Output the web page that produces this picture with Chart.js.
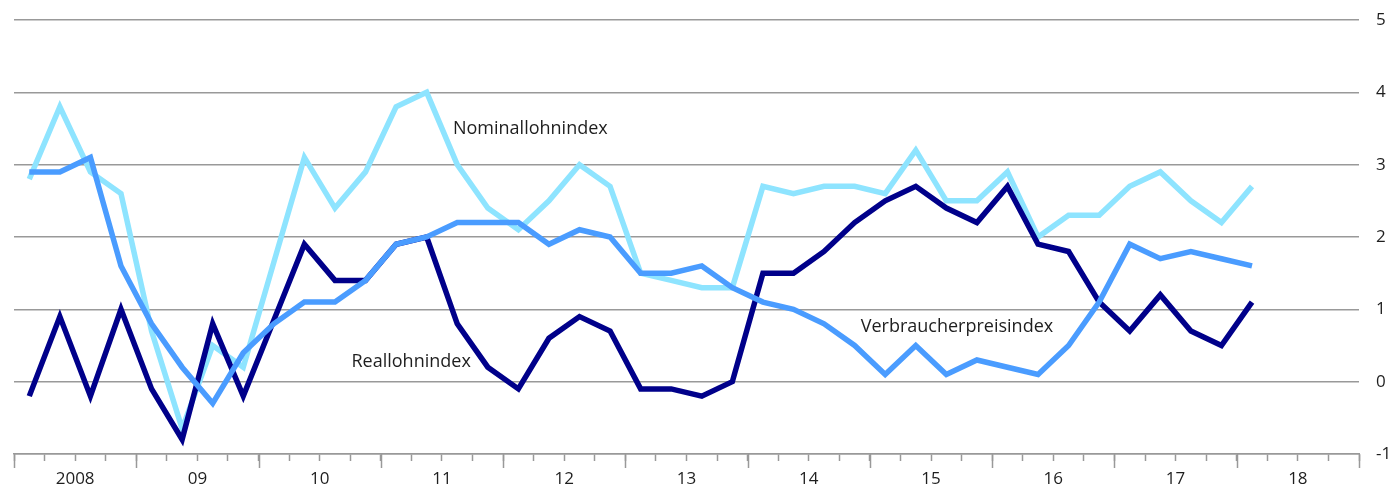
<!DOCTYPE html>
<html>
<head>
<meta charset="utf-8">
<script src="https://cdn.jsdelivr.net/npm/chart.js@4.4.1/dist/chart.umd.min.js"></script>
<style>
  html, body { margin: 0; padding: 0; background: #fff; }
  #wrap { width: 1399px; height: 493px; }
</style>
</head>
<body>
<div id="wrap"><canvas id="c" width="1399" height="493"></canvas></div>
<script>
// quarterly values, 2008 Q1 .. 2018 Q1 (change vs. previous year, %)
const years = ['2008', '09', '10', '11', '12', '13', '14', '15', '16', '17', '18']

const nominal = [2.8, 3.8, 2.9, 2.6, 0.7, -0.65, 0.5, 0.2, 1.65, 3.1, 2.4, 2.9, 3.8, 4.0, 3.0, 2.4, 2.1, 2.5, 3.0, 2.7,
                 1.5, 1.4, 1.3, 1.3, 2.7, 2.6, 2.7, 2.7, 2.6, 3.2, 2.5, 2.5, 2.9, 2.0, 2.3, 2.3, 2.7, 2.9, 2.5, 2.2, 2.7]
const real    = [-0.2, 0.9, -0.2, 1.0, -0.1, -0.8, 0.8, -0.2, 0.85, 1.9, 1.4, 1.4, 1.9, 2.0, 0.8, 0.2, -0.1, 0.6, 0.9, 0.7,
                 -0.1, -0.1, -0.2, 0.0, 1.5, 1.5, 1.8, 2.2, 2.5, 2.7, 2.4, 2.2, 2.7, 1.9, 1.8, 1.1, 0.7, 1.2, 0.7, 0.5, 1.1]
const cpi     = [2.9, 2.9, 3.1, 1.6, 0.8, 0.2, -0.3, 0.4, 0.8, 1.1, 1.1, 1.4, 1.9, 2.0, 2.2, 2.2, 2.2, 1.9, 2.1, 2.0,
                 1.5, 1.5, 1.6, 1.3, 1.1, 1.0, 0.8, 0.5, 0.1, 0.5, 0.1, 0.3, 0.2, 0.1, 0.5, 1.1, 1.9, 1.7, 1.8, 1.7, 1.6]

const seriesNames = ['Verbraucherpreisindex', 'Reallohnindex', 'Nominallohnindex']

// ── styles ───────────────────────────────────────────────────
const COL = { nominal: '#8ee4ff', real: '#00008a', cpi: '#4a9cff' }
const FONT = 'Open Sans'
const TXT = '#1e1e1e'
const GRID = '#999'

// label anchors in data units: x = quarter index, y = value
const tags = [
  { text: seriesNames[2], x: 14.36, y: 3.5 },
  { text: seriesNames[1], x: 11.04, y: 0.28 },
  { text: seriesNames[0], x: 27.7,  y: 0.76 },
]

const pts = arr => arr.map((v, i) => ({ x: i + 0.5, y: v }))

const line = (label, data, color) => ({
  label, data: pts(data),
  borderColor: color, backgroundColor: color,
  borderWidth: 5.5, pointRadius: 0, tension: 0,
  borderJoinStyle: 'miter', borderCapStyle: 'butt', fill: false,
})

// longer tick marks at the year boundaries + inline series names
const extras = {
  id: 'extras',
  afterDraw(chart) {
    const { ctx, scales: { x, y } } = chart
    const y0 = x.top
    ctx.save()
    ctx.strokeStyle = GRID
    ctx.lineWidth = 1.5
    for (let q = 0; q <= 44; q += 4) {
      const px = Math.round(x.getPixelForValue(q)) + 0.5
      ctx.beginPath(); ctx.moveTo(px, y0); ctx.lineTo(px, y0 + 14); ctx.stroke()
    }
    ctx.fillStyle = TXT
    ctx.font = `18px "${FONT}"`
    ctx.textBaseline = 'middle'
    ctx.textAlign = 'left'
    tags.forEach(t => ctx.fillText(t.text, x.getPixelForValue(t.x), y.getPixelForValue(t.y)))
    ctx.restore()
  },
}

new Chart(document.getElementById('c'), {
  type: 'line',
  data: {
    datasets: [
      line(seriesNames[0], cpi, COL.cpi),
      line(seriesNames[1], real, COL.real),
      line(seriesNames[2], nominal, COL.nominal),
    ],
  },
  options: {
    responsive: false, animation: false,
    layout: { padding: { left: 14, right: 0, top: 20, bottom: 0 } },
    scales: {
      x: {
        type: 'linear', min: 0, max: 44,
        afterBuildTicks: s => { s.ticks = Array.from({ length: 45 }, (_, i) => ({ value: i })) },
        afterFit: s => { s.height = 39 },
        grid: { drawOnChartArea: false, drawTicks: true, tickLength: 7, tickColor: GRID, tickWidth: 1.5 },
        border: { display: true, color: GRID, width: 1.5 },
        ticks: {
          autoSkip: false, maxRotation: 0, padding: 8,
          color: TXT, font: { family: FONT, size: 17 },
          callback: v => (v % 4 === 2 ? years[(v - 2) / 4] : ''),
        },
      },
      y: {
        position: 'right', min: -1, max: 5,
        afterFit: s => { s.width = 40; s.paddingTop = 0; s.paddingBottom = 0 },
        ticks: { stepSize: 1, padding: 17, color: TXT, font: { family: FONT, size: 17 } },
        grid: { color: GRID, lineWidth: 1.5, drawTicks: false },
        border: { display: false },
      },
    },
    plugins: { legend: { display: false }, tooltip: { enabled: false } },
  },
  plugins: [extras],
})
</script>
</body>
</html>
